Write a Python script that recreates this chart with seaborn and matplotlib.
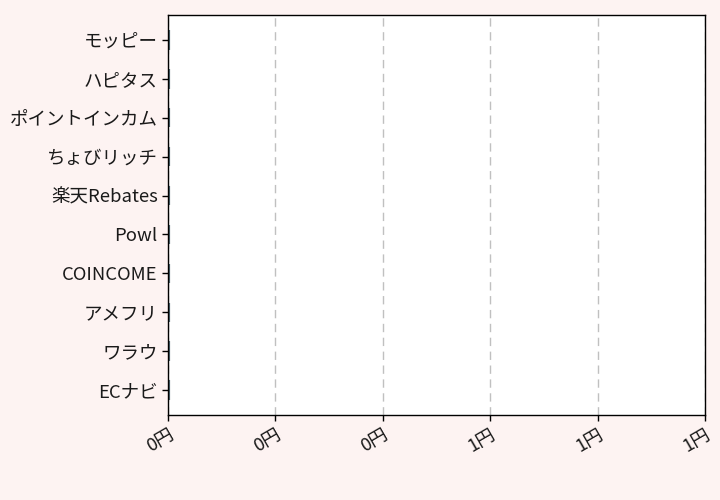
import matplotlib
matplotlib.use("Agg")
import matplotlib.pyplot as plt
import matplotlib.ticker as mticker
import seaborn as sns
import pandas as pd

sites = ["モッピー", "ハピタス", "ポイントインカム", "ちょびリッチ", "楽天Rebates",
         "Powl", "COINCOME", "アメフリ", "ワラウ", "ECナビ"]
values = [0, 0, 0, 0, 0, 0, 0, 0, 0, 0]
xticks = [0, 0.2, 0.4, 0.6, 0.8, 1.0]

sns.set_theme(style="white")
plt.rcParams['font.family'] = ['Noto Sans CJK JP', 'DejaVu Sans']

df = pd.DataFrame({"site": sites, "value": values})

fig = plt.figure(figsize=(7.2, 5.0), dpi=100, facecolor="#fdf3f2")
ax = fig.add_axes([168/720, 1-415/500, (705-168)/720, 400/500])
ax.set_facecolor("white")
sns.barplot(data=df, x="value", y="site", orient="h", ax=ax,
            color="#4a6670", edgecolor="#4a6670", linewidth=3, width=0.5)
ax.set_xlim(0, 1)
ax.set_ylim(9.64, -0.64)
ax.set_xticks(xticks)
ax.xaxis.set_major_formatter(mticker.FuncFormatter(lambda v, p: f"{v:.0f}円"))
ax.grid(axis="x", linestyle=(0, (6, 4)), color="#c0c0c0", linewidth=1)
ax.set_axisbelow(True)
for s in ax.spines.values():
    s.set_color("black")
    s.set_linewidth(1)
    s.set_zorder(5)
ax.tick_params(axis="both", which="major", length=4, width=1, color="black",
               labelsize=13.3, labelcolor="#1a1a1a", bottom=True, left=True)
plt.setp(ax.get_xticklabels(), rotation=30, ha="right", rotation_mode="anchor")
ax.set_xlabel("")
ax.set_ylabel("")
fig.savefig("out.png", dpi=100, facecolor=fig.get_facecolor())
